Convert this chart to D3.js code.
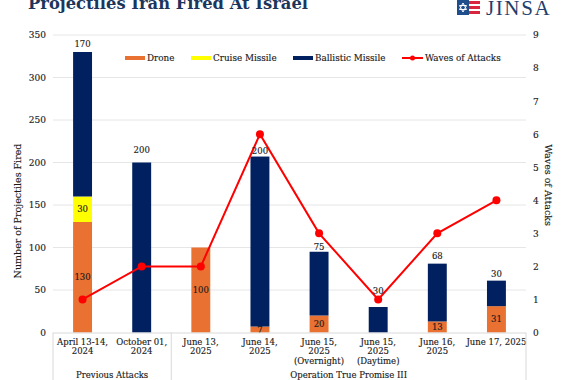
<!DOCTYPE html>
<html>
<head>
<meta charset="utf-8">
<script src="https://cdn.jsdelivr.net/npm/d3@7"></script>
<style>
html, body { margin: 0; padding: 0; background: #fff; }
svg { display: block; }
text { font-family: "DejaVu Serif", serif; fill: #1a1a1a; stroke: #1a1a1a; stroke-width: 0.15px; }
</style>
</head>
<body>
<div id="container"></div>
<script>
const canvasWidth = 562;
const canvasHeight = 380;

const dates = [
  ['April 13-14,', '2024'],
  ['October 01,', '2024'],
  ['June 13,', '2025'],
  ['June 14,', '2025'],
  ['June 15,', '2025', '(Overnight)'],
  ['June 15,', '2025', '(Daytime)'],
  ['June 16,', '2025'],
  ['June 17, 2025']
];
const drone = [130, 0, 100, 7, 20, 0, 13, 31];
const cruise = [30, 0, 0, 0, 0, 0, 0, 0];
const ballistic = [170, 200, 0, 200, 75, 30, 68, 30];
const waves = [1, 2, 2, 6, 3, 1, 3, 4];
const leftTicks = [0, 50, 100, 150, 200, 250, 300, 350];
const rightTicks = [0, 1, 2, 3, 4, 5, 6, 7, 8, 9];
const legendNames = ['Drone', 'Cruise Missile', 'Ballistic Missile', 'Waves of Attacks'];

// gap between bar top and the ballistic label baseline, differs per bar in the original
const labelGap = [5.5, 9.5, 0, 2.3, 1.6, 13, 5, 3.5];

const orange = '#e97132';
const yellow = '#ffff00';
const navy = '#002060';
const red = '#ff0000';

const plotLeft = 53;
const plotRight = 526;
const plotTop = 35;
const plotBottom = 332.5;

let svg = d3.select('#container')
  .append('svg')
  .attr('width', canvasWidth)
  .attr('height', canvasHeight);

let x = d3.scaleBand().domain(d3.range(dates.length)).range([plotLeft, plotRight]).paddingInner(0.68).paddingOuter(0.34);
let y = d3.scaleLinear().domain([0, 350]).range([plotBottom, plotTop]);
let y2 = d3.scaleLinear().domain([0, 9]).range([plotBottom, plotTop]);

function cx(i) {
  return x(i) + x.bandwidth() / 2;
}

// title, cut off by the top edge like the source
svg.append('text')
  .attr('x', 28)
  .attr('y', 9)
  .attr('textLength', 280)
  .attr('lengthAdjust', 'spacingAndGlyphs')
  .style('font-size', '17.5px')
  .style('font-weight', 'bold')
  .style('fill', '#1b365d')
  .style('stroke', 'none')
  .text('Projectiles Iran Fired At Israel');

// logo
let logo = svg.append('g').attr('transform', 'translate(457,0)');
logo.append('rect').attr('x', 0).attr('y', 0).attr('width', 12).attr('height', 15).attr('fill', '#1f4e8c');
logo.append('path')
  .attr('d', 'M6 3L9.5 9.5H2.5ZM6 12L2.5 5.5H9.5Z')
  .attr('fill', 'none')
  .attr('stroke', '#fff')
  .attr('stroke-width', 1);
[0, 1, 2].forEach(function(k) {
  logo.append('rect')
    .attr('x', 12).attr('y', 1 + k * 5)
    .attr('width', 11).attr('height', 3)
    .attr('fill', '#d7263d');
});
svg.append('text')
  .attr('x', 486)
  .attr('y', 14.5)
  .style('font-family', '"Liberation Serif", serif')
  .style('font-size', '21px')
  .style('letter-spacing', '1.6px')
  .style('fill', '#1f3f6e')
  .style('stroke', 'none')
  .text('JINSA');

// gridlines
svg.append('g').selectAll('line').data(leftTicks.slice(1)).enter()
  .append('line')
  .attr('x1', plotLeft)
  .attr('x2', plotRight)
  .attr('y1', d => y(d))
  .attr('y2', d => y(d))
  .attr('stroke', '#e6e6e6')
  .attr('stroke-width', 1);

// axes, only the labels are kept
let leftAxis = svg.append('g')
  .attr('transform', 'translate(' + plotLeft + ',0)')
  .call(d3.axisLeft(y).tickValues(leftTicks).tickSize(0).tickPadding(7));
let rightAxis = svg.append('g')
  .attr('transform', 'translate(' + plotRight + ',0)')
  .call(d3.axisRight(y2).tickValues(rightTicks).tickSize(0).tickPadding(7));
leftAxis.select('.domain').remove();
rightAxis.select('.domain').remove();
leftAxis.selectAll('text').style('font-size', '9px').style('font-family', '"DejaVu Serif", serif');
rightAxis.selectAll('text').style('font-size', '9px').style('font-family', '"DejaVu Serif", serif');

// stacked bars
let stackRows = dates.map(function(d, i) {
  return { i: i, drone: drone[i], cruise: cruise[i], ballistic: ballistic[i] };
});
let series = d3.stack().keys(['drone', 'cruise', 'ballistic'])(stackRows);
let colors = { drone: orange, cruise: yellow, ballistic: navy };

series.forEach(function(s) {
  svg.append('g').selectAll('rect').data(s).enter()
    .append('rect')
    .attr('x', d => x(d.data.i))
    .attr('width', x.bandwidth())
    .attr('y', d => y(d[1]))
    .attr('height', d => y(d[0]) - y(d[1]))
    .attr('fill', colors[s.key]);
});

// line on the right axis
let line = d3.line().x((d, i) => cx(i)).y(d => y2(d));
svg.append('path')
  .attr('d', line(waves))
  .attr('fill', 'none')
  .attr('stroke', red)
  .attr('stroke-width', 2);
svg.append('g').selectAll('circle').data(waves).enter()
  .append('circle')
  .attr('cx', (d, i) => cx(i))
  .attr('cy', d => y2(d))
  .attr('r', 4)
  .attr('fill', red);

// value labels, zero values get none
let indexes = d3.range(dates.length);

function centerLabels(values, base) {
  svg.append('g').selectAll('text').data(indexes.filter(i => values[i] > 0)).enter()
    .append('text')
    .attr('x', i => cx(i))
    .attr('y', i => y(base(i) + values[i] / 2) + 3)
    .attr('text-anchor', 'middle')
    .style('font-size', '8.5px')
    .text(i => values[i]);
}
centerLabels(drone, () => 0);
centerLabels(cruise, i => drone[i]);

svg.append('g').selectAll('text').data(indexes.filter(i => ballistic[i] > 0)).enter()
  .append('text')
  .attr('x', i => cx(i))
  .attr('y', i => y(drone[i] + cruise[i] + ballistic[i]) - labelGap[i])
  .attr('text-anchor', 'middle')
  .style('font-size', '8.5px')
  .text(i => ballistic[i]);

// category labels
let cat = svg.append('g').selectAll('text').data(dates).enter()
  .append('text')
  .attr('text-anchor', 'middle')
  .style('font-size', '8.5px');
cat.each(function(d, i) {
  let t = d3.select(this);
  d.forEach(function(s, k) {
    t.append('tspan').attr('x', cx(i)).attr('y', 345 + k * 9.3).text(s);
  });
});

// group separators under the axis
let groupEdges = [plotLeft, cx(1) + x.step() / 2, plotRight];
svg.append('line')
  .attr('x1', plotLeft).attr('x2', plotRight)
  .attr('y1', plotBottom + 0.5).attr('y2', plotBottom + 0.5)
  .attr('stroke', '#d9d9d9');
svg.append('g').selectAll('line').data(groupEdges).enter()
  .append('line')
  .attr('x1', d => d).attr('x2', d => d)
  .attr('y1', plotBottom).attr('y2', canvasHeight)
  .attr('stroke', '#d9d9d9');

svg.append('text')
  .attr('x', (groupEdges[0] + groupEdges[1]) / 2)
  .attr('y', 377.5)
  .attr('text-anchor', 'middle')
  .style('font-size', '8.5px')
  .text('Previous Attacks');
svg.append('text')
  .attr('x', (groupEdges[1] + groupEdges[2]) / 2)
  .attr('y', 377.5)
  .attr('text-anchor', 'middle')
  .style('font-size', '8.5px')
  .text('Operation True Promise III');

// axis titles
svg.append('text')
  .attr('transform', 'translate(21,211) rotate(-90)')
  .attr('text-anchor', 'middle')
  .style('font-size', '9.5px')
  .text('Number of Projectiles Fired');
svg.append('text')
  .attr('transform', 'translate(545,185) rotate(90)')
  .attr('text-anchor', 'middle')
  .style('font-size', '9.5px')
  .text('Waves of Attacks');

// legend
let legendX = [125, 191, 293, 402];
let legendColors = [orange, yellow, navy, red];
legendNames.forEach(function(name, i) {
  let g = svg.append('g').attr('transform', 'translate(' + legendX[i] + ',58)');
  if (i < 3) {
    g.append('rect').attr('x', 0).attr('y', -2).attr('width', 20).attr('height', 4).attr('fill', legendColors[i]);
  } else {
    g.append('line').attr('x1', 0).attr('x2', 21).attr('y1', 0).attr('y2', 0).attr('stroke', red).attr('stroke-width', 2);
    g.append('circle').attr('cx', 10.5).attr('cy', 0).attr('r', 2.5).attr('fill', red);
  }
  g.append('text')
    .attr('x', i < 3 ? 22 : 23)
    .attr('y', 3)
    .style('font-size', '8.8px')
    .text(name);
});
</script>
</body>
</html>
